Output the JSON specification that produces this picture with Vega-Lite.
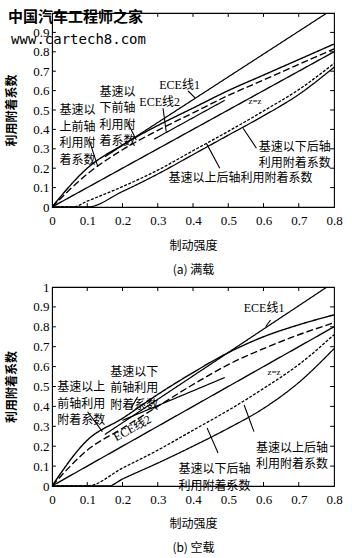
{
  "$schema": "https://vega.github.io/schema/vega-lite/v6.json",
  "padding": {"left": 5, "top": 6, "right": 5, "bottom": 2},
  "background": "#ffffff",
  "spacing": 4,
  "config": {
    "view": {"stroke": "#000", "strokeWidth": 1.1},
    "font": "Liberation Serif, Noto Sans CJK SC",
    "axis": {
      "grid": false,
      "domainColor": "#000",
      "tickColor": "#000",
      "ticks": false,
      "tickSize": 0,
      "labelOverlap": false,
      "labelFlush": false,
      "labelFont": "Liberation Serif",
      "labelFontSize": 13,
      "labelColor": "#000",
      "titleFont": "Noto Sans CJK SC",
      "titleFontSize": 12,
      "titleFontWeight": "normal",
      "titleColor": "#000"
    }
  },
  "datasets": {
    "curves": [
      {"p": "a", "s": "fa", "z": 0, "v": 0}, {"p": "a", "s": "fa", "z": 0.1, "v": 0.2}, {"p": "a", "s": "fa", "z": 0.2, "v": 0.32}, {"p": "a", "s": "fa", "z": 0.3, "v": 0.42}, {"p": "a", "s": "fa", "z": 0.4, "v": 0.51}, {"p": "a", "s": "fa", "z": 0.5, "v": 0.6}, {"p": "a", "s": "fa", "z": 0.6, "v": 0.68}, {"p": "a", "s": "fa", "z": 0.7, "v": 0.76}, {"p": "a", "s": "fa", "z": 0.8, "v": 0.84},
      {"p": "a", "s": "fb", "z": 0, "v": 0}, {"p": "a", "s": "fb", "z": 0.1, "v": 0.17}, {"p": "a", "s": "fb", "z": 0.2, "v": 0.295}, {"p": "a", "s": "fb", "z": 0.3, "v": 0.395}, {"p": "a", "s": "fb", "z": 0.4, "v": 0.485}, {"p": "a", "s": "fb", "z": 0.5, "v": 0.575}, {"p": "a", "s": "fb", "z": 0.6, "v": 0.655}, {"p": "a", "s": "fb", "z": 0.7, "v": 0.735}, {"p": "a", "s": "fb", "z": 0.8, "v": 0.815},
      {"p": "a", "s": "zz", "z": 0, "v": 0}, {"p": "a", "s": "zz", "z": 0.8, "v": 0.8},
      {"p": "a", "s": "rdot", "z": 0, "v": 0}, {"p": "a", "s": "rdot", "z": 0.06, "v": 0}, {"p": "a", "s": "rdot", "z": 0.1, "v": 0.03}, {"p": "a", "s": "rdot", "z": 0.2, "v": 0.105}, {"p": "a", "s": "rdot", "z": 0.3, "v": 0.19}, {"p": "a", "s": "rdot", "z": 0.4, "v": 0.29}, {"p": "a", "s": "rdot", "z": 0.5, "v": 0.39}, {"p": "a", "s": "rdot", "z": 0.6, "v": 0.495}, {"p": "a", "s": "rdot", "z": 0.7, "v": 0.605}, {"p": "a", "s": "rdot", "z": 0.8, "v": 0.74},
      {"p": "a", "s": "rsol", "z": 0, "v": 0}, {"p": "a", "s": "rsol", "z": 0.1, "v": 0}, {"p": "a", "s": "rsol", "z": 0.2, "v": 0.08}, {"p": "a", "s": "rsol", "z": 0.3, "v": 0.17}, {"p": "a", "s": "rsol", "z": 0.4, "v": 0.27}, {"p": "a", "s": "rsol", "z": 0.5, "v": 0.37}, {"p": "a", "s": "rsol", "z": 0.6, "v": 0.47}, {"p": "a", "s": "rsol", "z": 0.7, "v": 0.58}, {"p": "a", "s": "rsol", "z": 0.8, "v": 0.72},
      {"p": "a", "s": "ece1", "z": 0.15, "v": 0.259}, {"p": "a", "s": "ece1", "z": 0.78, "v": 1.0},
      {"p": "a", "s": "ece2", "z": 0.29, "v": 0.35}, {"p": "a", "s": "ece2", "z": 0.49, "v": 0.55},
      {"p": "b", "s": "fa", "z": 0, "v": 0}, {"p": "b", "s": "fa", "z": 0.1, "v": 0.23}, {"p": "b", "s": "fa", "z": 0.2, "v": 0.34}, {"p": "b", "s": "fa", "z": 0.3, "v": 0.46}, {"p": "b", "s": "fa", "z": 0.4, "v": 0.57}, {"p": "b", "s": "fa", "z": 0.5, "v": 0.67}, {"p": "b", "s": "fa", "z": 0.6, "v": 0.75}, {"p": "b", "s": "fa", "z": 0.7, "v": 0.81}, {"p": "b", "s": "fa", "z": 0.8, "v": 0.86},
      {"p": "b", "s": "fb", "z": 0, "v": 0}, {"p": "b", "s": "fb", "z": 0.1, "v": 0.18}, {"p": "b", "s": "fb", "z": 0.2, "v": 0.29}, {"p": "b", "s": "fb", "z": 0.3, "v": 0.4}, {"p": "b", "s": "fb", "z": 0.4, "v": 0.51}, {"p": "b", "s": "fb", "z": 0.5, "v": 0.61}, {"p": "b", "s": "fb", "z": 0.6, "v": 0.69}, {"p": "b", "s": "fb", "z": 0.7, "v": 0.76}, {"p": "b", "s": "fb", "z": 0.8, "v": 0.82},
      {"p": "b", "s": "zz", "z": 0, "v": 0}, {"p": "b", "s": "zz", "z": 0.8, "v": 0.8},
      {"p": "b", "s": "rdot", "z": 0, "v": 0}, {"p": "b", "s": "rdot", "z": 0.1, "v": 0}, {"p": "b", "s": "rdot", "z": 0.2, "v": 0.09}, {"p": "b", "s": "rdot", "z": 0.3, "v": 0.18}, {"p": "b", "s": "rdot", "z": 0.4, "v": 0.28}, {"p": "b", "s": "rdot", "z": 0.5, "v": 0.38}, {"p": "b", "s": "rdot", "z": 0.6, "v": 0.49}, {"p": "b", "s": "rdot", "z": 0.7, "v": 0.61}, {"p": "b", "s": "rdot", "z": 0.8, "v": 0.76},
      {"p": "b", "s": "rsol", "z": 0, "v": 0}, {"p": "b", "s": "rsol", "z": 0.16, "v": 0}, {"p": "b", "s": "rsol", "z": 0.2, "v": 0.035}, {"p": "b", "s": "rsol", "z": 0.3, "v": 0.115}, {"p": "b", "s": "rsol", "z": 0.4, "v": 0.2}, {"p": "b", "s": "rsol", "z": 0.5, "v": 0.29}, {"p": "b", "s": "rsol", "z": 0.6, "v": 0.39}, {"p": "b", "s": "rsol", "z": 0.7, "v": 0.52}, {"p": "b", "s": "rsol", "z": 0.8, "v": 0.69},
      {"p": "b", "s": "ece1", "z": 0.15, "v": 0.259}, {"p": "b", "s": "ece1", "z": 0.78, "v": 1.0},
      {"p": "b", "s": "ece2", "z": 0.2, "v": 0.33}, {"p": "b", "s": "ece2", "z": 0.49, "v": 0.545}
    ],
    "labels": [
      {"p": "a", "t": "基速以\n上前轴\n利用附\n着系数", "z": 0.072, "v": 0.5},
      {"p": "a", "t": "基速以\n下前轴\n利用附\n着系数", "z": 0.186, "v": 0.594},
      {"p": "a", "t": "ECE线1", "z": 0.362, "v": 0.629},
      {"p": "a", "t": "ECE线2", "z": 0.3055, "v": 0.541},
      {"p": "a", "t": "基速以下后轴\n利用附着系数", "z": 0.689, "v": 0.311},
      {"p": "a", "t": "基速以上后轴利用附着系数", "z": 0.535, "v": 0.149},
      {"p": "b", "t": "基速以上\n前轴利用\n附着系数", "z": 0.083, "v": 0.495},
      {"p": "b", "t": "基速以下\n前轴利用\n附着系数", "z": 0.233, "v": 0.574},
      {"p": "b", "t": "ECE线1", "z": 0.6016, "v": 0.894},
      {"p": "b", "t": "基速以上后轴\n利用附着系数", "z": 0.681, "v": 0.191},
      {"p": "b", "t": "基速以下后轴\n利用附着系数", "z": 0.461, "v": 0.083}
    ],
    "small": [
      {"p": "a", "t": "z=z", "z": 0.576, "v": 0.546},
      {"p": "b", "t": "z=z", "z": 0.63, "v": 0.573}
    ],
    "rotated": [
      {"p": "b", "t": "ECE线2", "z": 0.2275, "v": 0.291}
    ],
    "arrows": [
      {"p": "a", "z1": 0.107, "v1": 0.337, "z2": 0.13, "v2": 0.208},
      {"p": "a", "z1": 0.216, "v1": 0.431, "z2": 0.239, "v2": 0.345},
      {"p": "a", "z1": 0.386, "v1": 0.598, "z2": 0.406, "v2": 0.562},
      {"p": "a", "z1": 0.315, "v1": 0.509, "z2": 0.324, "v2": 0.388},
      {"p": "a", "z1": 0.58, "v1": 0.303, "z2": 0.542, "v2": 0.406},
      {"p": "a", "z1": 0.476, "v1": 0.2, "z2": 0.438, "v2": 0.328},
      {"p": "b", "z1": 0.101, "v1": 0.373, "z2": 0.143, "v2": 0.273},
      {"p": "b", "z1": 0.243, "v1": 0.449, "z2": 0.224, "v2": 0.39},
      {"p": "b", "z1": 0.62, "v1": 0.834, "z2": 0.606, "v2": 0.8},
      {"p": "b", "z1": 0.573, "v1": 0.273, "z2": 0.545, "v2": 0.407},
      {"p": "b", "z1": 0.471, "v1": 0.166, "z2": 0.44, "v2": 0.291}
    ],
    "xticks": [{"t": 0.1}, {"t": 0.2}, {"t": 0.3}, {"t": 0.4}, {"t": 0.5}, {"t": 0.6}, {"t": 0.7}],
    "yticks": [{"t": 0.1}, {"t": 0.2}, {"t": 0.3}, {"t": 0.4}, {"t": 0.5}, {"t": 0.6}, {"t": 0.7}, {"t": 0.8}, {"t": 0.9}],
    "mark1": [
      {"t": "中国汽车工程师之家", "z": -0.125, "v": 0.979}
    ],
    "mark2": [
      {"t": "www.cartech8.com", "z": -0.116, "v": 0.861}
    ]
  },
  "vconcat": [
    {
      "width": 282,
      "height": 194,
      "layer": [
        {
          "data": {"name": "curves"},
          "transform": [{"filter": "datum.p == 'a'"}],
          "mark": {"type": "line", "color": "#000", "clip": true, "interpolate": "monotone"},
          "encoding": {
            "x": {"field": "z", "type": "quantitative", "scale": {"domain": [0, 0.8], "nice": false},
              "axis": {"tickCount": 8, "labelExpr": "datum.value == 0 ? '0' : format(datum.value, '.1f')", "title": ["制动强度", "(a) 满载"], "titleLineHeight": 24, "titlePadding": 13, "labelPadding": 7}},
            "y": {"field": "v", "type": "quantitative", "scale": {"domain": [0, 1], "nice": false},
              "axis": {"tickCount": 10, "labelExpr": "datum.value == 0 ? '0' : datum.value >= 0.99 ? '' : format(datum.value, '.1f')", "title": "利用附着系数", "titleFontWeight": "bold", "titlePadding": 14, "labelPadding": 3}},
            "detail": {"field": "s", "type": "nominal"},
            "strokeDash": {"field": "s", "type": "nominal", "legend": null,
              "scale": {"domain": ["fa", "fb", "zz", "rdot", "rsol", "ece1", "ece2"], "range": [[1, 0], [7, 3], [1, 0], [3, 1.5], [1, 0], [1, 0], [1, 0]]}},
            "strokeWidth": {"field": "s", "type": "nominal", "legend": null,
              "scale": {"domain": ["fa", "fb", "zz", "rdot", "rsol", "ece1", "ece2"], "range": [1.4, 1.2, 1.4, 2.1, 1.8, 2.2, 2.6]}}
          }
        },
        {
          "data": {"name": "xticks"},
          "mark": {"type": "rule", "color": "#000", "strokeWidth": 1},
          "encoding": {"x": {"field": "t", "type": "quantitative"}, "y": {"datum": 1}, "y2": {"datum": 0.98}}
        },
        {
          "data": {"name": "xticks"},
          "mark": {"type": "rule", "color": "#000", "strokeWidth": 1},
          "encoding": {"x": {"field": "t", "type": "quantitative"}, "y": {"datum": 0}, "y2": {"datum": 0.02}}
        },
        {
          "data": {"name": "yticks"},
          "mark": {"type": "rule", "color": "#000", "strokeWidth": 1},
          "encoding": {"y": {"field": "t", "type": "quantitative"}, "x": {"datum": 0.8}, "x2": {"datum": 0.789}}
        },
        {
          "data": {"name": "yticks"},
          "mark": {"type": "rule", "color": "#000", "strokeWidth": 1},
          "encoding": {"y": {"field": "t", "type": "quantitative"}, "x": {"datum": 0}, "x2": {"datum": 0.011}}
        },
        {
          "data": {"name": "arrows"},
          "transform": [{"filter": "datum.p == 'a'"}],
          "mark": {"type": "rule", "color": "#000", "strokeWidth": 1.1},
          "encoding": {
            "x": {"field": "z1", "type": "quantitative"},
            "y": {"field": "v1", "type": "quantitative"},
            "x2": {"field": "z2"},
            "y2": {"field": "v2"}
          }
        },
        {
          "data": {"name": "labels"},
          "transform": [{"filter": "datum.p == 'a'"}],
          "mark": {"type": "text", "lineBreak": "\n", "fontSize": 12, "lineHeight": 16.5, "align": "center", "baseline": "middle", "color": "#000"},
          "encoding": {
            "x": {"field": "z", "type": "quantitative"},
            "y": {"field": "v", "type": "quantitative"},
            "text": {"field": "t", "type": "nominal"}
          }
        },
        {
          "data": {"name": "small"},
          "transform": [{"filter": "datum.p == 'a'"}],
          "mark": {"type": "text", "fontSize": 9, "align": "center", "baseline": "middle", "color": "#000"},
          "encoding": {
            "x": {"field": "z", "type": "quantitative"},
            "y": {"field": "v", "type": "quantitative"},
            "text": {"field": "t", "type": "nominal"}
          }
        },
        {
          "data": {"name": "mark1"},
          "mark": {"type": "text", "font": "Noto Sans CJK SC", "fontWeight": "bold", "fontSize": 15, "align": "left", "baseline": "middle", "color": "#000"},
          "encoding": {
            "x": {"field": "z", "type": "quantitative"},
            "y": {"field": "v", "type": "quantitative"},
            "text": {"field": "t", "type": "nominal"}
          }
        },
        {
          "data": {"name": "mark2"},
          "mark": {"type": "text", "font": "DejaVu Sans Mono", "fontSize": 14, "align": "left", "baseline": "middle", "color": "#000"},
          "encoding": {
            "x": {"field": "z", "type": "quantitative"},
            "y": {"field": "v", "type": "quantitative"},
            "text": {"field": "t", "type": "nominal"}
          }
        }
      ]
    },
    {
      "width": 282,
      "height": 199,
      "layer": [
        {
          "data": {"name": "curves"},
          "transform": [{"filter": "datum.p == 'b'"}],
          "mark": {"type": "line", "color": "#000", "clip": true, "interpolate": "monotone"},
          "encoding": {
            "x": {"field": "z", "type": "quantitative", "scale": {"domain": [0, 0.8], "nice": false},
              "axis": {"tickCount": 8, "labelExpr": "datum.value == 0 ? '0' : format(datum.value, '.1f')", "title": ["制动强度", "(b) 空载"], "titleLineHeight": 24, "titlePadding": 12, "labelPadding": 7}},
            "y": {"field": "v", "type": "quantitative", "scale": {"domain": [0, 1], "nice": false},
              "axis": {"tickCount": 10, "labelExpr": "datum.value == 0 ? '0' : datum.value >= 0.99 ? '1' : format(datum.value, '.1f')", "title": "利用附着系数", "titleFontWeight": "bold", "titlePadding": 14, "labelPadding": 3}},
            "detail": {"field": "s", "type": "nominal"},
            "strokeDash": {"field": "s", "type": "nominal", "legend": null,
              "scale": {"domain": ["fa", "fb", "zz", "rdot", "rsol", "ece1", "ece2"], "range": [[1, 0], [7, 3], [1, 0], [3, 1.5], [1, 0], [1, 0], [1, 0]]}},
            "strokeWidth": {"field": "s", "type": "nominal", "legend": null,
              "scale": {"domain": ["fa", "fb", "zz", "rdot", "rsol", "ece1", "ece2"], "range": [1.4, 1.2, 1.4, 2.1, 1.8, 2.2, 2.6]}}
          }
        },
        {
          "data": {"name": "xticks"},
          "mark": {"type": "rule", "color": "#000", "strokeWidth": 1},
          "encoding": {"x": {"field": "t", "type": "quantitative"}, "y": {"datum": 1}, "y2": {"datum": 0.98}}
        },
        {
          "data": {"name": "xticks"},
          "mark": {"type": "rule", "color": "#000", "strokeWidth": 1},
          "encoding": {"x": {"field": "t", "type": "quantitative"}, "y": {"datum": 0}, "y2": {"datum": 0.02}}
        },
        {
          "data": {"name": "yticks"},
          "mark": {"type": "rule", "color": "#000", "strokeWidth": 1},
          "encoding": {"y": {"field": "t", "type": "quantitative"}, "x": {"datum": 0.8}, "x2": {"datum": 0.789}}
        },
        {
          "data": {"name": "yticks"},
          "mark": {"type": "rule", "color": "#000", "strokeWidth": 1},
          "encoding": {"y": {"field": "t", "type": "quantitative"}, "x": {"datum": 0}, "x2": {"datum": 0.011}}
        },
        {
          "data": {"name": "arrows"},
          "transform": [{"filter": "datum.p == 'b'"}],
          "mark": {"type": "rule", "color": "#000", "strokeWidth": 1.1},
          "encoding": {
            "x": {"field": "z1", "type": "quantitative"},
            "y": {"field": "v1", "type": "quantitative"},
            "x2": {"field": "z2"},
            "y2": {"field": "v2"}
          }
        },
        {
          "data": {"name": "labels"},
          "transform": [{"filter": "datum.p == 'b'"}],
          "mark": {"type": "text", "lineBreak": "\n", "fontSize": 12, "lineHeight": 16.5, "align": "center", "baseline": "middle", "color": "#000"},
          "encoding": {
            "x": {"field": "z", "type": "quantitative"},
            "y": {"field": "v", "type": "quantitative"},
            "text": {"field": "t", "type": "nominal"}
          }
        },
        {
          "data": {"name": "small"},
          "transform": [{"filter": "datum.p == 'b'"}],
          "mark": {"type": "text", "fontSize": 9, "align": "center", "baseline": "middle", "color": "#000"},
          "encoding": {
            "x": {"field": "z", "type": "quantitative"},
            "y": {"field": "v", "type": "quantitative"},
            "text": {"field": "t", "type": "nominal"}
          }
        },
        {
          "data": {"name": "rotated"},
          "mark": {"type": "text", "fontSize": 12, "angle": -29, "align": "center", "baseline": "middle", "color": "#000"},
          "encoding": {
            "x": {"field": "z", "type": "quantitative"},
            "y": {"field": "v", "type": "quantitative"},
            "text": {"field": "t", "type": "nominal"}
          }
        }
      ]
    }
  ]
}
